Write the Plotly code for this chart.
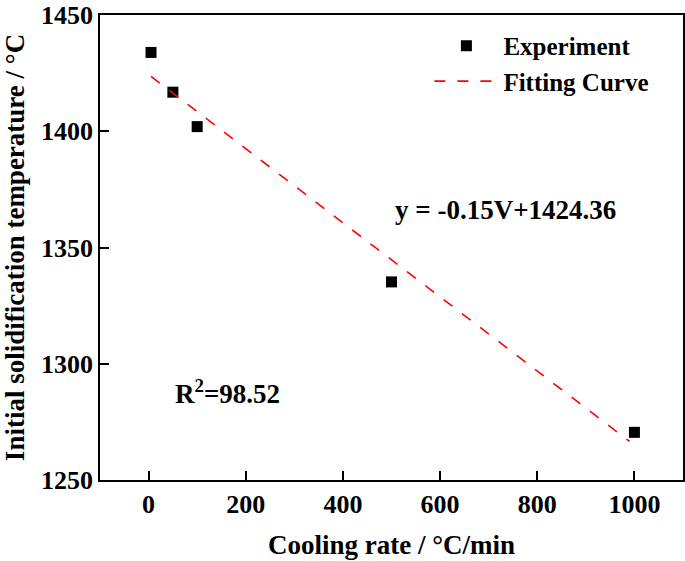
import plotly.graph_objects as go

# Data
cooling_rate = [5, 50, 100, 500, 1000]
solid_temp = [1433.9, 1416.8, 1402.0, 1335.2, 1270.5]

fit_x = [5, 990]
fit_y = [1423.6, 1266.6]

x_ticks = [0, 200, 400, 600, 800, 1000]
y_ticks = [1250, 1300, 1350, 1400, 1450]

FONT = "Liberation Serif, Times New Roman, serif"
FS = 27

fig = go.Figure()
fig.add_trace(go.Scatter(
    x=cooling_rate, y=solid_temp, mode="markers", name="Experiment",
    marker=dict(symbol="square", size=11, color="black"),
))
fig.add_trace(go.Scatter(
    x=fit_x, y=fit_y, mode="lines", name="Fitting Curve",
    line=dict(color="red", width=1.6, dash="11px,12px"),
))

fig.add_annotation(x=0.696, y=0.581, xref="paper", yref="paper",
                   xanchor="center", yanchor="middle",
                   text="y = -0.15V+1424.36", showarrow=False,
                   font=dict(family=FONT, size=FS, color="black", weight="bold"))
fig.add_annotation(x=0.219, y=0.19, xref="paper", yref="paper",
                   xanchor="center", yanchor="middle",
                   text="R<sup>2</sup>=98.52", showarrow=False,
                   font=dict(family=FONT, size=FS, color="black", weight="bold"))

axis_common = dict(
    showline=True, linecolor="black", linewidth=1.5, mirror=True,
    ticks="inside", ticklen=9, tickwidth=1.5, tickcolor="black",
    showgrid=False, zeroline=False, automargin=False,
    ticklabeloverflow="allow",
    tickfont=dict(family=FONT, size=26, color="black", weight="bold"),
)

fig.update_xaxes(range=[-100, 1100], tickvals=x_ticks,
                 title=dict(text="Cooling rate / °C/min", standoff=17,
                            font=dict(family=FONT, size=FS, color="black", weight="bold")),
                 **axis_common)
fig.update_yaxes(range=[1250, 1450], tickvals=y_ticks,
                 title=dict(text="Initial solidification temperature / °C", standoff=9,
                            font=dict(family=FONT, size=FS, color="black", weight="bold")),
                 **axis_common)

fig.update_layout(
    width=685, height=561,
    margin=dict(l=100, r=2, t=15, b=81),
    plot_bgcolor="white", paper_bgcolor="white",
    showlegend=True,
    legend=dict(x=0.565, y=0.983, xanchor="left", yanchor="top",
                bgcolor="rgba(0,0,0,0)", borderwidth=0,
                font=dict(family=FONT, size=25, color="black", weight="bold"),
                itemwidth=64, tracegroupgap=0),
)

fig.write_html("out.html",
               config={"displayModeBar": False},
               post_script="document.body.style.margin='0';document.body.style.overflow='hidden';")
